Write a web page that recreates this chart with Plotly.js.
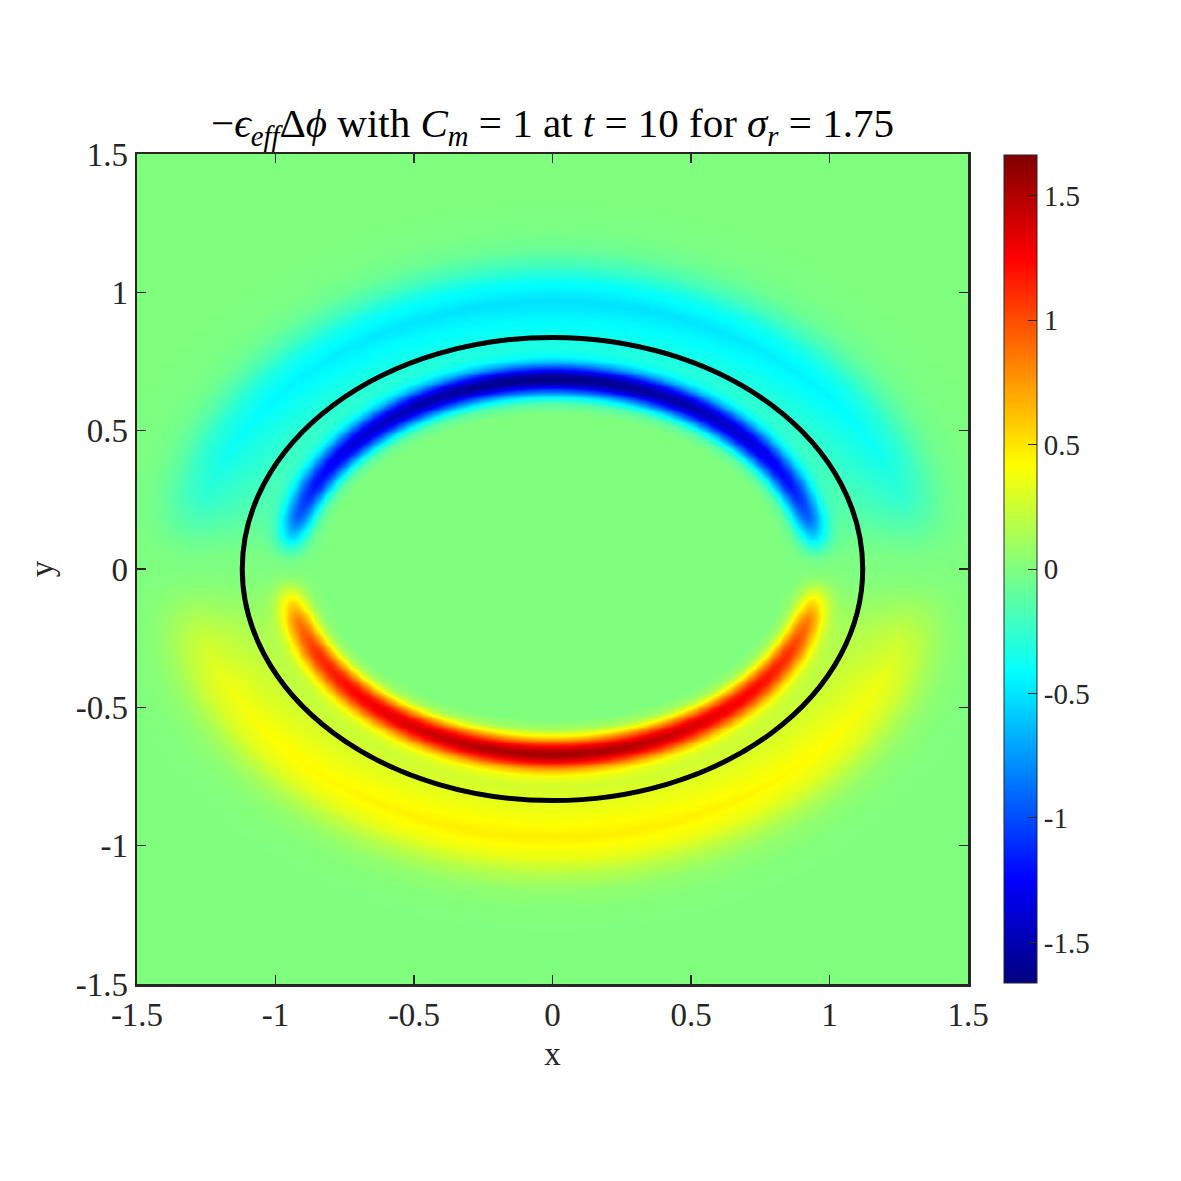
<!DOCTYPE html>
<html>
<head>
<meta charset="utf-8">
<script src="https://cdn.plot.ly/plotly-3.0.1.min.js"></script>
<style>html,body{margin:0;padding:0;background:#fff;}#chart{width:1181px;height:1181px;}</style>
</head>
<body>
<div id="chart"></div>
<script>
// ---- Data ----
const axisTicks = [-1.5, -1, -0.5, 0, 0.5, 1, 1.5];
const axisTickText = ['-1.5', '-1', '-0.5', '0', '0.5', '1', '1.5'];
const colorTicks = [-1.5, -1, -0.5, 0, 0.5, 1, 1.5];
const colorTickText = ['-1.5', '-1', '-0.5', '0', '0.5', '1', '1.5'];
const colorLimits = [-1.663, 1.663];
const gridCount = 301;                       // samples per axis over [-1.5, 1.5]
const membraneAxes = [1.12, 0.837];          // black ellipse semi-axes (x, y)
const innerUpperAxes = [0.955, 0.683];       // blue band centre line
const innerLowerAxes = [0.955, 0.665];       // red band centre line
const outerAxes = [1.30, 0.97];              // cyan / yellow broad band centre line
// band strength vs. angle on the membrane (degrees from the x axis)
const angleDeg =       [0,    3,     6,     10,    15,    25,    40,    60,    75,    90];
const innerUpperPeak = [0,   -0.05, -0.25, -0.6,  -0.95, -1.2,  -1.35, -1.45, -1.5,  -1.53];
const innerLowerPeak = [0,    0.06,  0.25,  0.55,  0.85,  1.1,   1.25,  1.38,  1.47,  1.52];
const outerUpperPeak = [0,   -0.02, -0.07, -0.16, -0.26, -0.37, -0.44, -0.49, -0.51, -0.52];
const outerLowerPeak = [0,    0.02,  0.07,  0.15,  0.25,  0.36,  0.42,  0.45,  0.47,  0.47];
// cross-band profiles (distance from band centre line, relative strength)
const innerOffsets = [-0.12, -0.085, -0.06, -0.04, -0.018, 0, 0.018, 0.04, 0.06, 0.085, 0.12];
const innerShape   = [0,      0.08,   0.3,   0.6,   0.9,   1, 0.9,   0.6,  0.3,  0.08,  0];
const outerOffsets = [-0.40, -0.32, -0.26, -0.18, -0.10, 0, 0.07, 0.13, 0.19, 0.26, 0.36];
const outerShape   = [0,      0.04,  0.45,  0.58,  0.75, 1, 0.75, 0.38, 0.13, 0.03, 0];

// ---- helpers ----
function interp(v, xs, ys) {
  if (v <= xs[0]) return ys[0];
  if (v >= xs[xs.length - 1]) return ys[ys.length - 1];
  for (let i = 1; i < xs.length; i++) {
    if (v <= xs[i]) {
      const t = (v - xs[i - 1]) / (xs[i] - xs[i - 1]);
      return ys[i - 1] + t * (ys[i] - ys[i - 1]);
    }
  }
  return ys[ys.length - 1];
}
function offsetFrom(x, y, ax) {
  const A = ax[0], B = ax[1];
  const rho = Math.sqrt((x / A) ** 2 + (y / B) ** 2);
  if (rho < 1e-9) return -1;
  const g = Math.sqrt((x / (A * A)) ** 2 + (y / (B * B)) ** 2) / rho;
  return (rho - 1) / g;
}

const xs = [], ys = [];
for (let i = 0; i < gridCount; i++) {
  const v = axisTicks[0] + (axisTicks[axisTicks.length - 1] - axisTicks[0]) * i / (gridCount - 1);
  xs.push(v); ys.push(v);
}
const z = ys.map(y => xs.map(x => {
  const th = Math.atan2(Math.abs(y) / membraneAxes[1], Math.abs(x) / membraneAxes[0]) * 180 / Math.PI;
  const up = y >= 0;
  const inAx = up ? innerUpperAxes : innerLowerAxes;
  const inPk = interp(th, angleDeg, up ? innerUpperPeak : innerLowerPeak);
  const outPk = interp(th, angleDeg, up ? outerUpperPeak : outerLowerPeak);
  const vi = inPk * interp(offsetFrom(x, y, inAx), innerOffsets, innerShape);
  const vo = outPk * interp(offsetFrom(x, y, outerAxes), outerOffsets, outerShape);
  return vi + vo;
}));

const jet = [[0, 'rgb(0,0,128)'], [0.125, 'rgb(0,0,255)'], [0.375, 'rgb(0,255,255)'],
             [0.625, 'rgb(255,255,0)'], [0.875, 'rgb(255,0,0)'], [1, 'rgb(128,0,0)']];
const ink = '#262626';
const serif = 'Liberation Serif';

const trace = {
  type: 'heatmap', x: xs, y: ys, z: z, zsmooth: 'best',
  colorscale: jet, zmin: colorLimits[0], zmax: colorLimits[1],
  colorbar: {
    x: 1.0433, xanchor: 'left', xref: 'paper', y: 0.5, yanchor: 'middle',
    len: 0.997, lenmode: 'fraction', thickness: 33, thicknessmode: 'pixels',
    outlinecolor: ink, outlinewidth: 1, xpad: 0, ypad: 0,
    ticks: 'inside', ticklen: 9, tickwidth: 1, tickcolor: ink,
    tickvals: colorTicks, ticktext: colorTickText,
    tickfont: {family: serif, size: 29, color: ink}
  },
  hoverinfo: 'skip'
};

const axisCommon = {
  range: [-1.5, 1.5], tickvals: axisTicks, ticktext: axisTickText,
  showgrid: false, zeroline: false, showline: true, mirror: 'ticks',
  linecolor: ink, linewidth: 2.5, ticks: 'inside', ticklen: 9, tickwidth: 1.2, tickcolor: ink,
  tickfont: {family: serif, size: 33, color: ink}
};

const layout = {
  width: 1181, height: 1181,
  margin: {l: 137, r: 213, t: 154, b: 197},
  paper_bgcolor: '#ffffff', plot_bgcolor: '#ffffff',
  font: {family: serif},
  title: {
    text: '−<i>ϵ</i><sub><i>eff</i></sub>Δ<i>ϕ</i> with <i>C</i><sub><i>m</i></sub> = 1 at <i>t</i> = 10 for <i>σ</i><sub><i>r</i></sub> = 1.75',
    font: {family: serif, size: 41, color: '#000'},
    xref: 'paper', x: 0.5, xanchor: 'center',
    yref: 'container', y: 0.896, yanchor: 'middle'
  },
  xaxis: Object.assign({}, axisCommon, {
    title: {text: 'x', font: {family: serif, size: 33, color: ink}, standoff: 10}
  }),
  yaxis: Object.assign({}, axisCommon, {
    title: {text: 'y', font: {family: serif, size: 33, color: ink}, standoff: 12}
  }),
  shapes: [{
    type: 'circle', xref: 'x', yref: 'y', layer: 'above',
    x0: -membraneAxes[0], x1: membraneAxes[0], y0: -membraneAxes[1], y1: membraneAxes[1],
    line: {color: '#000', width: 5}
  }]
};

Plotly.newPlot('chart', [trace], layout, {displayModeBar: false, staticPlot: true});
</script>
</body>
</html>
